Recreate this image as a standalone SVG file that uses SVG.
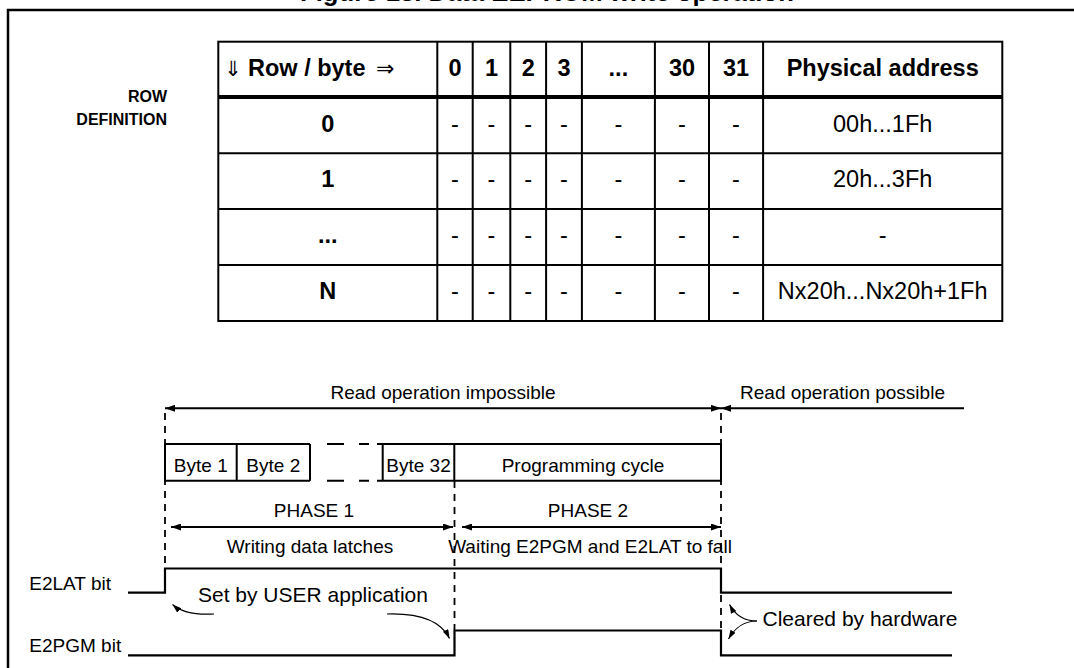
<svg xmlns="http://www.w3.org/2000/svg" width="1074" height="668" viewBox="0 0 1074 668">
<style>
text { font-family: "Liberation Sans", Arial, sans-serif; fill: #000; }
.b { font-weight: bold; }
.tb { font-size: 23.5px; text-anchor: middle; }
.tl { font-size: 19px; text-anchor: middle; }
.an { font-size: 21px; }
.arw { font-family: "DejaVu Sans", sans-serif; font-weight: normal; }
.ln { stroke: #000; stroke-width: 2; fill: none; }
.sig { stroke: #000; stroke-width: 2.2; fill: none; }
.dash { stroke: #000; stroke-width: 1.8; stroke-dasharray: 7 6; fill: none; }
.thin { stroke: #000; stroke-width: 1.2; fill: none; }
</style>
<defs>
<marker id="ah" viewBox="0 0 10 7" refX="10" refY="3.5" markerWidth="10" markerHeight="7" markerUnits="userSpaceOnUse" orient="auto-start-reverse"><path d="M0,0 L10,3.5 L0,7 z" fill="#000"/></marker>
<marker id="sh" viewBox="0 0 9 6" refX="9" refY="3" markerWidth="9" markerHeight="6" markerUnits="userSpaceOnUse" orient="auto"><path d="M0,0 L9,3 L0,6 z" fill="#000"/></marker>
</defs>
<rect width="1074" height="668" fill="#fff"/>

<g id="title">
<text class="b" x="300" y="1" font-size="25.7">Figure 13. Data EEPROM write operation</text>
</g>

<g id="frame">
<path d="M8,680 V10 H1080" stroke="#000" stroke-width="2.5" fill="none"/>
</g>

<g id="row-definition">
<text class="b" x="167" y="101.5" font-size="16" text-anchor="end">ROW</text>
<text class="b" x="167" y="125" font-size="16" text-anchor="end">DEFINITION</text>
</g>

<g id="table">
<rect x="218.3" y="41.7" width="784" height="279.3" class="ln"/>
<line x1="218.3" y1="97" x2="1002.3" y2="97" stroke="#000" stroke-width="4"/>
<line x1="218.3" y1="153.3" x2="1002.3" y2="153.3" class="ln"/>
<line x1="218.3" y1="209" x2="1002.3" y2="209" class="ln"/>
<line x1="218.3" y1="265" x2="1002.3" y2="265" class="ln"/>
<g class="ln">
<line x1="437.3" y1="41.7" x2="437.3" y2="321"/>
<line x1="472.7" y1="41.7" x2="472.7" y2="321"/>
<line x1="510.3" y1="41.7" x2="510.3" y2="321"/>
<line x1="546.1" y1="41.7" x2="546.1" y2="321"/>
<line x1="581.9" y1="41.7" x2="581.9" y2="321"/>
<line x1="654.9" y1="41.7" x2="654.9" y2="321"/>
<line x1="709" y1="41.7" x2="709" y2="321"/>
<line x1="763.1" y1="41.7" x2="763.1" y2="321"/>
</g>
<text class="b" font-size="23.5" y="75.5"><tspan class="arw" x="224" font-size="21">⇓</tspan><tspan x="248">Row / byte</tspan><tspan class="arw" x="376" font-size="22">⇒</tspan></text>
<g class="b tb">
<text x="455" y="75.5">0</text>
<text x="491.5" y="75.5">1</text>
<text x="528.2" y="75.5">2</text>
<text x="564" y="75.5">3</text>
<text x="618.4" y="75.5">...</text>
<text x="682" y="75.5">30</text>
<text x="736" y="75.5">31</text>
<text x="882.7" y="75.5">Physical address</text>
<text x="327.8" y="131.5">0</text>
<text x="327.8" y="187">1</text>
<text x="327.8" y="243">...</text>
<text x="327.8" y="299">N</text>
</g>
<g class="tb">
<text x="455" y="131.5">-</text><text x="491.5" y="131.5">-</text><text x="528.2" y="131.5">-</text><text x="564" y="131.5">-</text><text x="618.4" y="131.5">-</text><text x="682" y="131.5">-</text><text x="736" y="131.5">-</text>
<text x="455" y="187">-</text><text x="491.5" y="187">-</text><text x="528.2" y="187">-</text><text x="564" y="187">-</text><text x="618.4" y="187">-</text><text x="682" y="187">-</text><text x="736" y="187">-</text>
<text x="455" y="243">-</text><text x="491.5" y="243">-</text><text x="528.2" y="243">-</text><text x="564" y="243">-</text><text x="618.4" y="243">-</text><text x="682" y="243">-</text><text x="736" y="243">-</text>
<text x="455" y="299">-</text><text x="491.5" y="299">-</text><text x="528.2" y="299">-</text><text x="564" y="299">-</text><text x="618.4" y="299">-</text><text x="682" y="299">-</text><text x="736" y="299">-</text>
<text x="882.7" y="131.5">00h...1Fh</text>
<text x="882.7" y="187">20h...3Fh</text>
<text x="882.7" y="243">-</text>
<text x="882.7" y="299">Nx20h...Nx20h+1Fh</text>
</g>
</g>

<g id="connectors">
<line x1="165" y1="413" x2="165" y2="568.5" class="dash"/>
<line x1="454.5" y1="481" x2="454.5" y2="630.5" class="dash"/>
<line x1="721" y1="413" x2="721" y2="631" class="dash"/>
<line x1="165" y1="408.3" x2="721" y2="408.3" class="ln" marker-start="url(#ah)" marker-end="url(#ah)"/>
<line x1="721" y1="408.3" x2="964" y2="408.3" class="ln" marker-start="url(#ah)"/>
<line x1="171" y1="527" x2="453" y2="527" class="ln" marker-start="url(#ah)" marker-end="url(#ah)"/>
<line x1="462" y1="527" x2="721" y2="527" class="ln" marker-start="url(#ah)" marker-end="url(#ah)"/>
<path d="M214,614 C196,615 181,612 172.5,604.5" class="thin" marker-end="url(#sh)"/>
<path d="M387,614 C420,613 441,621 449.5,638.5" class="thin" marker-end="url(#sh)"/>
<path d="M757,621 C743,621 735,615 729.5,604.5" class="thin" marker-end="url(#sh)"/>
<path d="M757,621 C743,621 735,628 728.5,639" class="thin" marker-end="url(#sh)"/>
</g>

<g id="read-impossible">
<text class="tl" x="443" y="399.3">Read operation impossible</text>
</g>
<g id="read-possible">
<text class="tl" x="842.5" y="399.3">Read operation possible</text>
</g>

<g id="byte-boxes">
<path d="M310,444 H165 V480.7 H310 M236.7,444 V480.7 M310,444 V480.7" class="ln"/>
<path d="M327,444 H344 M359,444 H369 M327,480.7 H344 M359,480.7 H369" class="ln"/>
<path d="M377,444 H721 V480.7 H377 M382.7,444 V480.7 M454.3,444 V480.7" class="ln"/>
<text class="tl" x="200.8" y="471.7">Byte 1</text>
<text class="tl" x="273.3" y="471.7">Byte 2</text>
<text class="tl" x="418.5" y="471.7">Byte 32</text>
<text class="tl" x="583" y="471.7">Programming cycle</text>
</g>

<g id="phase1">
<text class="tl" x="314" y="517">PHASE 1</text>
<text class="tl" x="310" y="552.5">Writing data latches</text>
</g>
<g id="phase2">
<text class="tl" x="588" y="517">PHASE 2</text>
<text class="tl" x="590" y="552.5" font-size="18.5">Waiting E2PGM and E2LAT to fall</text>
</g>

<g id="e2lat">
<text x="29.3" y="590" font-size="19">E2LAT bit</text>
<path d="M128,592.6 H165 V568.5 H721 V592.6 H952" class="sig"/>
</g>
<g id="e2pgm">
<text x="29.3" y="652" font-size="19">E2PGM bit</text>
<path d="M128,655.4 H454.5 V630.5 H721 V655.4 H952" class="sig"/>
</g>

<g id="note-user">
<text class="an" x="198" y="602">Set by USER application</text>
</g>
<g id="note-hw">
<text class="an" x="762.5" y="626">Cleared by hardware</text>
</g>
</svg>
